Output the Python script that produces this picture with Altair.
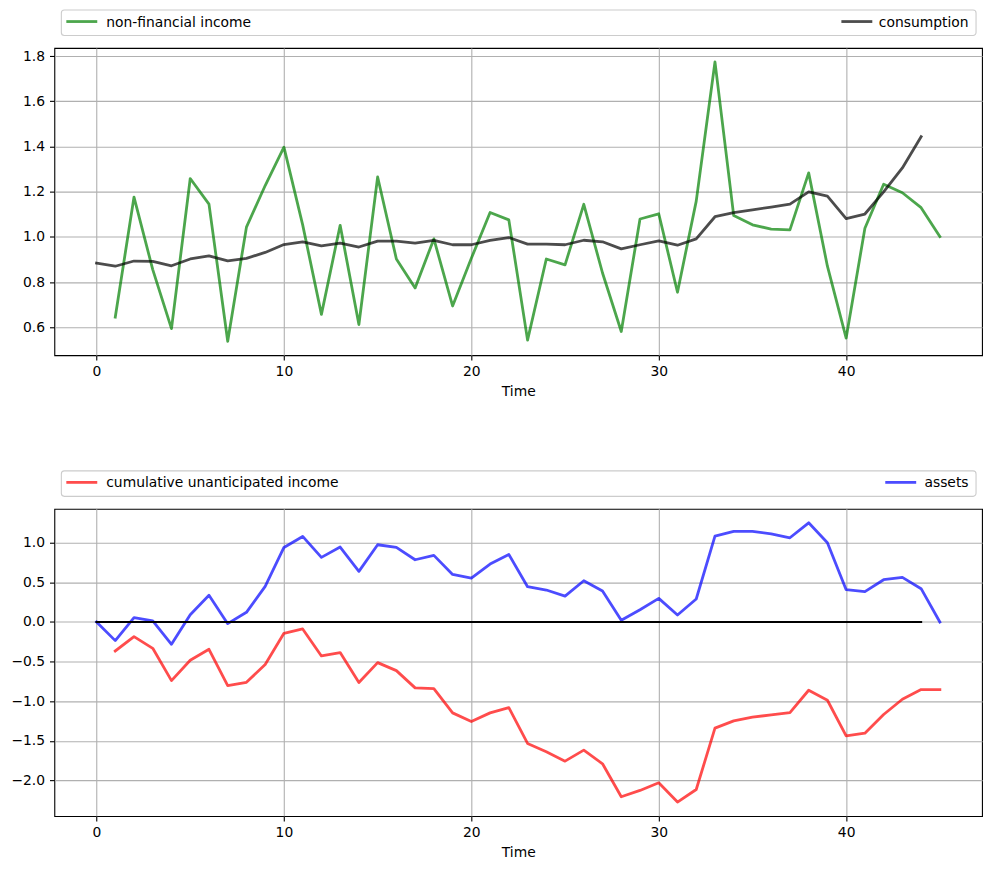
import altair as alt
import pandas as pd

# ---- data -------------------------------------------------------------
income_t = list(range(1, 46))
income = [0.645, 1.176, 0.855, 0.594, 1.258, 1.145, 0.538, 1.043, 1.227, 1.397,
          1.053, 0.657, 1.051, 0.612, 1.265, 0.902, 0.774, 0.991, 0.694, 0.905,
          1.108, 1.075, 0.543, 0.902, 0.876, 1.144, 0.840, 0.581, 1.079, 1.102,
          0.755, 1.158, 1.774, 1.094, 1.053, 1.034, 1.031, 1.283, 0.870, 0.552,
          1.038, 1.233, 1.195, 1.129, 1.001]

consumption_t = list(range(0, 45))
consumption = [0.884, 0.870, 0.893, 0.891, 0.872, 0.902, 0.916, 0.894, 0.905, 0.931,
               0.966, 0.978, 0.960, 0.972, 0.955, 0.981, 0.981, 0.972, 0.984, 0.965,
               0.965, 0.984, 0.997, 0.968, 0.968, 0.965, 0.985, 0.978, 0.947, 0.965,
               0.982, 0.963, 0.991, 1.089, 1.107, 1.119, 1.132, 1.145, 1.199, 1.180,
               1.081, 1.101, 1.199, 1.305, 1.443]

assets_t = list(range(0, 46))
assets = [0.0, -0.235, 0.055, 0.013, -0.281, 0.092, 0.336, -0.021, 0.122, 0.449,
          0.940, 1.079, 0.815, 0.945, 0.638, 0.974, 0.940, 0.785, 0.840, 0.600,
          0.554, 0.730, 0.852, 0.445, 0.403, 0.327, 0.520, 0.390, 0.021, 0.155,
          0.298, 0.088, 0.290, 1.083, 1.142, 1.142, 1.112, 1.062, 1.251, 0.999,
          0.407, 0.382, 0.533, 0.563, 0.420, 0.0]

cum_unant_t = list(range(1, 46))
cum_unant = [-0.365, -0.185, -0.332, -0.739, -0.483, -0.344, -0.802, -0.760, -0.537, -0.143,
             -0.088, -0.428, -0.386, -0.764, -0.512, -0.613, -0.831, -0.840, -1.146, -1.255,
             -1.146, -1.079, -1.532, -1.637, -1.755, -1.616, -1.788, -2.204, -2.124, -2.028,
             -2.271, -2.112, -1.339, -1.247, -1.201, -1.171, -1.142, -0.861, -0.987, -1.436,
             -1.402, -1.167, -0.974, -0.852, -0.852]

zero_t = [0, 44]
zero_v = [0.0, 0.0]

x_ticks = [0, 10, 20, 30, 40]
top_y_ticks = [0.6, 0.8, 1.0, 1.2, 1.4, 1.6, 1.8]
bottom_y_ticks = [-2.0, -1.5, -1.0, -0.5, 0.0, 0.5, 1.0]

# ---- helpers ----------------------------------------------------------
FONT = "DejaVu Sans"
FS = 13.9
W, H = 930, 308


def padded(lo, hi, frac=0.05):
    m = (hi - lo) * frac
    return [lo - m, hi + m]


x_domain = padded(0, 45)


def frame(ts, vs):
    return pd.DataFrame({"t": ts, "v": vs})


def line(df, color, ydom, yticks, opacity=0.7, width=2.8):
    return alt.Chart(df).mark_line(
        color=color, opacity=opacity, strokeWidth=width,
        strokeCap="square", strokeJoin="round",
    ).encode(
        x=alt.X("t:Q", scale=alt.Scale(domain=x_domain, nice=False, zero=False),
                axis=alt.Axis(values=x_ticks, format="d", title="Time")),
        y=alt.Y("v:Q", scale=alt.Scale(domain=ydom, nice=False, zero=False),
                axis=alt.Axis(values=yticks, format=".1f", title=None)),
    )


dummy = pd.DataFrame({"k": [0]})


def legend(left_label, left_color, right_label, right_color, right_line_x):
    box = alt.Chart(dummy).mark_rect(
        fill="white", fillOpacity=0.8, stroke="#cccccc", strokeWidth=1.1, cornerRadius=3
    ).encode(x=alt.value(7), x2=alt.value(924), y=alt.value(-38), y2=alt.value(-12.5))
    l_line = alt.Chart(dummy).mark_rule(
        color=left_color, opacity=0.7, strokeWidth=2.8
    ).encode(x=alt.value(12), x2=alt.value(43), y=alt.value(-26.5))
    l_text = alt.Chart(dummy).mark_text(
        align="left", baseline="middle", font=FONT, fontSize=FS, color="black",
        text=left_label,
    ).encode(x=alt.value(52), y=alt.value(-25.5))
    r_line = alt.Chart(dummy).mark_rule(
        color=right_color, opacity=0.7, strokeWidth=2.8
    ).encode(x=alt.value(right_line_x), x2=alt.value(right_line_x + 31), y=alt.value(-26.5))
    r_text = alt.Chart(dummy).mark_text(
        align="right", baseline="middle", font=FONT, fontSize=FS, color="black",
        text=right_label,
    ).encode(x=alt.value(916.5), y=alt.value(-25.5))
    return [box, l_line, l_text, r_line, r_text]


# ---- top panel: income vs consumption ---------------------------------
top_dom = padded(min(income + consumption), max(income + consumption))
top = alt.layer(
    line(frame(income_t, income), "green", top_dom, top_y_ticks),
    line(frame(consumption_t, consumption), "black", top_dom, top_y_ticks),
    *legend("non-financial income", "green", "consumption", "black", 789),
).properties(width=W, height=H)

# ---- bottom panel: cumulative unanticipated income vs assets ----------
bot_dom = padded(min(assets + cum_unant), max(assets + cum_unant))
bottom = alt.layer(
    line(frame(cum_unant_t, cum_unant), "red", bot_dom, bottom_y_ticks),
    line(frame(assets_t, assets), "blue", bot_dom, bottom_y_ticks),
    line(frame(zero_t, zero_v), "black", bot_dom, bottom_y_ticks, opacity=1.0, width=2.1),
    *legend("cumulative unanticipated income", "red", "assets", "blue", 833),
).properties(width=W, height=H)

chart = alt.vconcat(top, bottom, spacing=154, bounds="flush").properties(
    padding={"left": 9.5, "top": 7, "right": 10, "bottom": 14},
    background="white",
).configure_view(
    stroke="black", strokeWidth=1.1
).configure_axis(
    domain=False, grid=True, gridColor="#b0b0b0", gridWidth=1.1,
    tickColor="black", tickWidth=1.1, tickSize=4.9,
    labelPadding=4.9, labelFont=FONT, labelFontSize=FS, labelColor="black",
    labelFlush=False, labelOverlap=False,
    titleFont=FONT, titleFontSize=FS, titleFontWeight="normal", titleColor="black",
    titlePadding=5.5,
)

chart.save("out.html", embed_options={"renderer": "svg", "actions": False})
